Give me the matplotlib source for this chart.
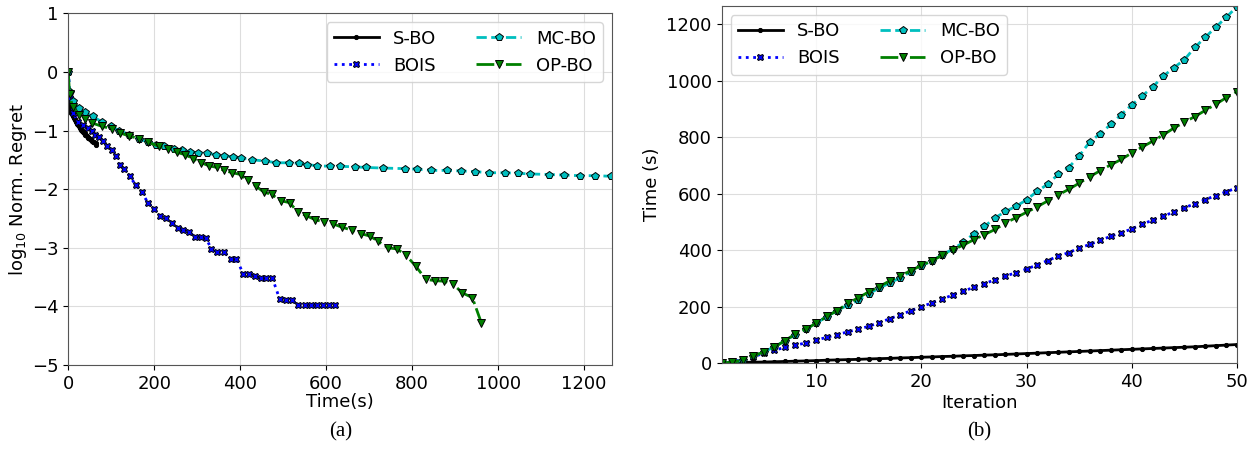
import matplotlib
matplotlib.use("Agg")
import matplotlib.pyplot as plt
import numpy as np

iters = np.arange(1, 51)

# cumulative wall-clock time per iteration (s)
t_sbo = [0, 1, 2, 3, 3.5, 4.5, 5.5, 6.5, 7.5, 8.5, 10, 11, 12, 13, 14.5, 15.5, 16.5, 18, 19, 20.5,
         21.5, 23, 24, 25.5, 26.5, 28, 29, 30.5, 32, 33.5, 35, 36.5, 38, 39.5, 41, 42.5, 44, 45.5, 47, 48.5,
         50, 51.5, 53, 54.5, 56, 57.5, 59.5, 61.5, 63.5, 65.5]
t_bois = [0, 5, 12, 22, 34, 45, 55, 63, 71, 81, 91, 101, 110, 120, 130, 143, 157, 171, 185, 199,
          213, 227, 241, 255, 268, 281, 295, 308, 320, 333, 347, 363, 378, 391, 407, 420, 434, 449, 461, 475,
          492, 506, 520, 535, 550, 564, 579, 593, 607, 620]
t_mcbo = [0, 3, 10, 24, 39, 57, 78, 100, 119, 141, 164, 186, 205, 222, 246, 265, 284, 302, 323, 344,
          362, 384, 403, 428, 458, 484, 514, 537, 555, 578, 608, 633, 668, 692, 733, 783, 812, 845, 880, 914,
          946, 978, 1016, 1046, 1074, 1118, 1154, 1190, 1225, 1262]
t_opbo = [0, 3, 10, 26, 38, 55, 79, 102, 120, 141, 165, 186, 211, 231, 252, 271, 291, 309, 327, 346,
          362, 382, 401, 418, 437, 455, 473, 496, 515, 534, 553, 574, 595, 615, 637, 660, 681, 702, 721, 744,
          765, 786, 808, 832, 853, 873, 895, 917, 940, 961]

# log10 normalised regret per iteration
r_sbo = [0, -0.30, -0.45, -0.55, -0.60, -0.64, -0.66, -0.68, -0.70, -0.71, -0.73, -0.75, -0.76, -0.78,
         -0.79, -0.81, -0.82, -0.84, -0.86, -0.87, -0.89, -0.90, -0.92, -0.93, -0.95, -0.96, -0.97, -0.99,
         -1.00, -1.01, -1.03, -1.04, -1.05, -1.07, -1.08, -1.09, -1.10, -1.11, -1.12, -1.13, -1.14, -1.15,
         -1.16, -1.17, -1.18, -1.19, -1.20, -1.21, -1.22, -1.24]
r_bois = [0, -0.45, -0.70, -0.85, -0.91, -0.95, -1.00, -1.07, -1.11, -1.18, -1.26, -1.34, -1.43, -1.58,
          -1.65, -1.78, -1.93, -2.05, -2.23, -2.33, -2.45, -2.49, -2.57, -2.67, -2.69, -2.73, -2.81, -2.81,
          -2.83, -3.02, -3.07, -3.08, -3.19, -3.19, -3.44, -3.44, -3.48, -3.52, -3.52, -3.52, -3.88, -3.89,
          -3.89, -3.98, -3.98, -3.98, -3.98, -3.98, -3.98, -3.98]
r_mcbo = [0, -0.35, -0.50, -0.61, -0.69, -0.76, -0.85, -0.93, -1.00, -1.07, -1.14, -1.20, -1.24, -1.27,
          -1.31, -1.34, -1.36, -1.38, -1.39, -1.41, -1.43, -1.45, -1.47, -1.50, -1.52, -1.55, -1.55, -1.56,
          -1.58, -1.60, -1.61, -1.61, -1.62, -1.63, -1.64, -1.65, -1.66, -1.68, -1.68, -1.69, -1.70, -1.72,
          -1.72, -1.73, -1.74, -1.75, -1.76, -1.77, -1.77, -1.78]
r_opbo = [0, -0.37, -0.60, -0.73, -0.80, -0.87, -0.93, -0.97, -1.04, -1.09, -1.14, -1.20, -1.27, -1.31,
          -1.37, -1.41, -1.48, -1.55, -1.60, -1.63, -1.68, -1.72, -1.75, -1.85, -1.95, -2.05, -2.09, -2.20,
          -2.23, -2.39, -2.45, -2.52, -2.56, -2.59, -2.65, -2.70, -2.76, -2.80, -2.89, -3.00, -3.02, -3.13,
          -3.31, -3.54, -3.56, -3.57, -3.62, -3.77, -3.85, -4.28]

names = ["S-BO", "BOIS", "MC-BO", "OP-BO"]
styles = [dict(color="k", ls="-", marker=".", ms=6),
          dict(color="b", ls=":", marker="X", ms=5),
          dict(color="c", ls="--", marker="p", ms=5.5),
          dict(color="g", ls="-.", marker="v", ms=6)]
times = [t_sbo, t_bois, t_mcbo, t_opbo]
regrets = [r_sbo, r_bois, r_mcbo, r_opbo]

plt.rcParams["font.size"] = 13

fig = plt.figure(figsize=(12.57, 4.54), dpi=100)
ax1 = fig.add_axes([0.0543, 0.196, 0.4326, 0.7747])
ax2 = fig.add_axes([0.574, 0.2004, 0.410, 0.786])

for name, st, t, r in zip(names, styles, times, regrets):
    ax1.plot(t, r, label=name, lw=2, mec="k", mew=0.7, **st)
    ax2.plot(iters, t, label=name, lw=2, mec="k", mew=0.7, **st)

ax1.set_xlim(0, 1265)
ax1.set_ylim(-5, 1)
ax1.set_xlabel("Time(s)", labelpad=0)
ax1.set_ylabel(r"log$_{10}$ Norm. Regret", labelpad=2)
ax1.legend(loc="upper right", ncol=2, handlelength=2.5, columnspacing=2.2, fontsize=13)

ax2.set_xlim(1, 50)
ax2.set_ylim(0, 1264)
ax2.set_xticks([10, 20, 30, 40, 50])
ax2.set_xlabel("Iteration", labelpad=2)
ax2.set_ylabel("Time (s)")
ax2.legend(loc="upper left", ncol=2, handlelength=2.5, columnspacing=2.2, fontsize=13)

for ax in (ax1, ax2):
    ax.grid(True, color="#dddddd", lw=0.8)
    for sp in ax.spines.values():
        sp.set_color("#555555")

fig.text(0.271, 0.038, "(a)", family="Liberation Serif", fontsize=15, ha="center")
fig.text(0.779, 0.038, "(b)", family="Liberation Serif", fontsize=15, ha="center")

fig.savefig("out.png", dpi=100)
